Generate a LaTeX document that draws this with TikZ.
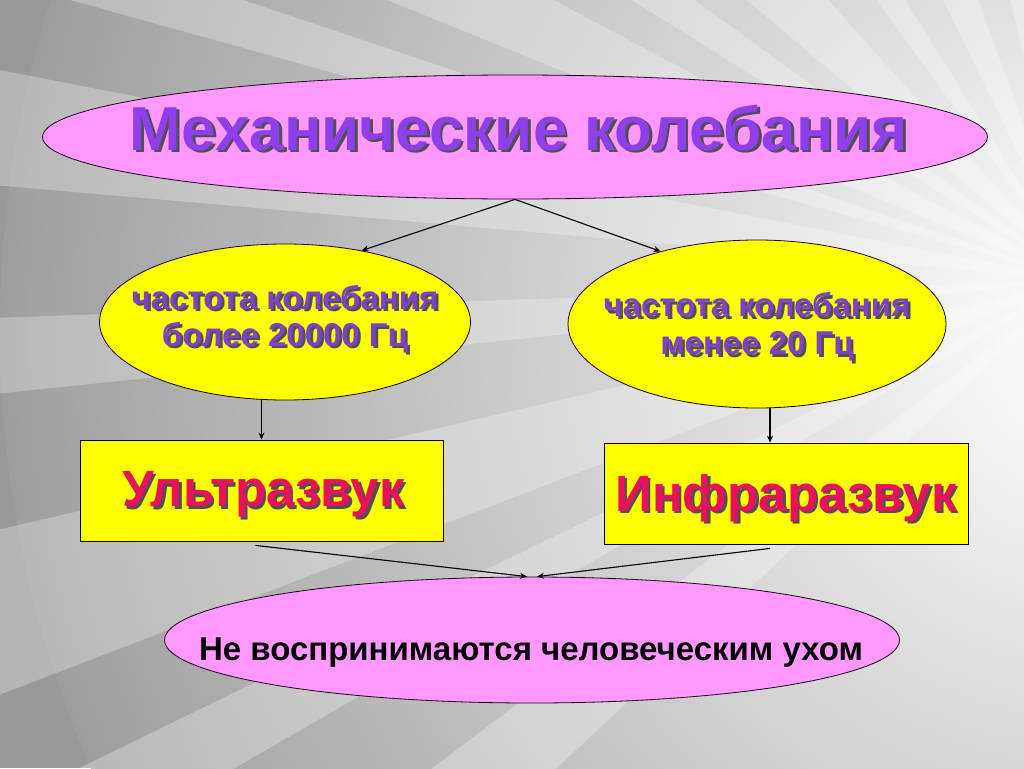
\documentclass[tikz,border=0pt]{standalone}
\usepackage{fontspec}
\setmainfont{Liberation Sans}
\usepackage{xcolor}
\usetikzlibrary{positioning,arrows.meta,shapes.geometric,calc}

\definecolor{pinkfill}{HTML}{FF99FF}
\definecolor{yellowfill}{HTML}{FFFF00}
\definecolor{titlepurple}{HTML}{8F3FEA}
\definecolor{textpurple}{HTML}{8040C8}
\definecolor{crimson}{HTML}{E8125C}
\definecolor{shadowgray}{HTML}{505050}

\newcommand{\shadowtext}[2]{\rlap{\kern2.5pt\raisebox{-2.5pt}{\color{shadowgray}#2}}{\color{#1}#2}}

\begin{document}
\begin{tikzpicture}[x=1pt,y=-1pt,>={Stealth[length=7pt,width=6pt]},font=\bfseries]

  \tikzstyle{oval}=[ellipse,draw=black!80!violet,line width=0.8pt,inner sep=0pt]
  \tikzstyle{plate}=[rectangle,draw=black,line width=0.8pt,fill=yellowfill,inner sep=0pt]
  \tikzstyle{link}=[->,line width=1.1pt]

  % background
  \fill[black!40] (0,0) rectangle (1024,768);
  \begin{scope}
    \clip (0,0) rectangle (1024,768);
    \shade[inner color=white,outer color=black!38] (1100,330) circle (1100);
    \coordinate (c) at (1080,280);
    \foreach \a/\w in {140/3,152/2,163/4,176/2,188/3,197/1.5,205/3,214/2,224/4,236/2,247/3,258/2}
      \fill[white,opacity=0.28] (c) -- ($(c)+(\a-\w:1800)$) -- ($(c)+(\a+\w:1800)$) -- cycle;
  \end{scope}
  \useasboundingbox (0,0) rectangle (1024,768);

  % shapes
  \node[oval,fill=pinkfill,minimum width=945pt,minimum height=124pt] (mech) at (515,137) {};
  \node[oval,fill=yellowfill,minimum width=371pt,minimum height=156pt] (high) at (285,322) {};
  \node[oval,fill=yellowfill,minimum width=378pt,minimum height=168pt] (low) at (757,324) {};
  \node[plate,minimum width=363pt,minimum height=101pt] (ultra) at (261.5,490.5) {};
  \node[plate,minimum width=364pt,minimum height=101pt] (infra) at (786,493.5) {};
  \node[oval,fill=pinkfill,minimum width=735pt,minimum height=126pt] (ear) at (532,640) {};

  % texts
  \node[font=\bfseries\fontsize{62}{62}\selectfont] (mechtext) at ([xshift=4pt,yshift=8pt]mech.center)
    {\shadowtext{titlepurple}{Механические колебания}};
  \node[align=center,font=\bfseries\fontsize{33}{37}\selectfont] (hightext) at ([yshift=2pt]high.center)
    {\shadowtext{textpurple}{частота колебания}\\ \shadowtext{textpurple}{более 20000 Гц}};
  \node[align=center,font=\bfseries\fontsize{33}{38}\selectfont] (lowtext) at ([yshift=-4pt]low.center)
    {\shadowtext{textpurple}{частота колебания}\\ \shadowtext{textpurple}{менее 20 Гц}};
  \node[font=\bfseries\fontsize{51}{51}\selectfont] (ultratext) at ([xshift=2pt,yshift=-5pt]ultra.center)
    {\shadowtext{crimson}{Ультразвук}};
  \node[font=\bfseries\fontsize{51}{51}\selectfont] (infratext) at ([yshift=-6pt]infra.center)
    {\shadowtext{crimson}{Инфраразвук}};
  \node[font=\bfseries\fontsize{33}{33}\selectfont] (eartext) at ([xshift=-1pt,yshift=-13pt]ear.center)
    {Не воспринимаются человеческим ухом};

  % arrows
  \draw[link] (mech.south) -- (high.43);
  \draw[link] (mech.south) -- (low.143);
  \draw[link] (ultra.north |- high.south) -- (ultra.north);
  \draw[link] ([xshift=-16pt]infra.north |- low.south) -- ([xshift=-16pt]infra.north);
  \draw[link] ([xshift=-6pt,yshift=-4pt]ultra.south) -- ([xshift=-5pt]ear.north);
  \draw[link] ([xshift=-16pt,yshift=-4pt]infra.south) -- ([xshift=5pt]ear.north);

\end{tikzpicture}
\end{document}
